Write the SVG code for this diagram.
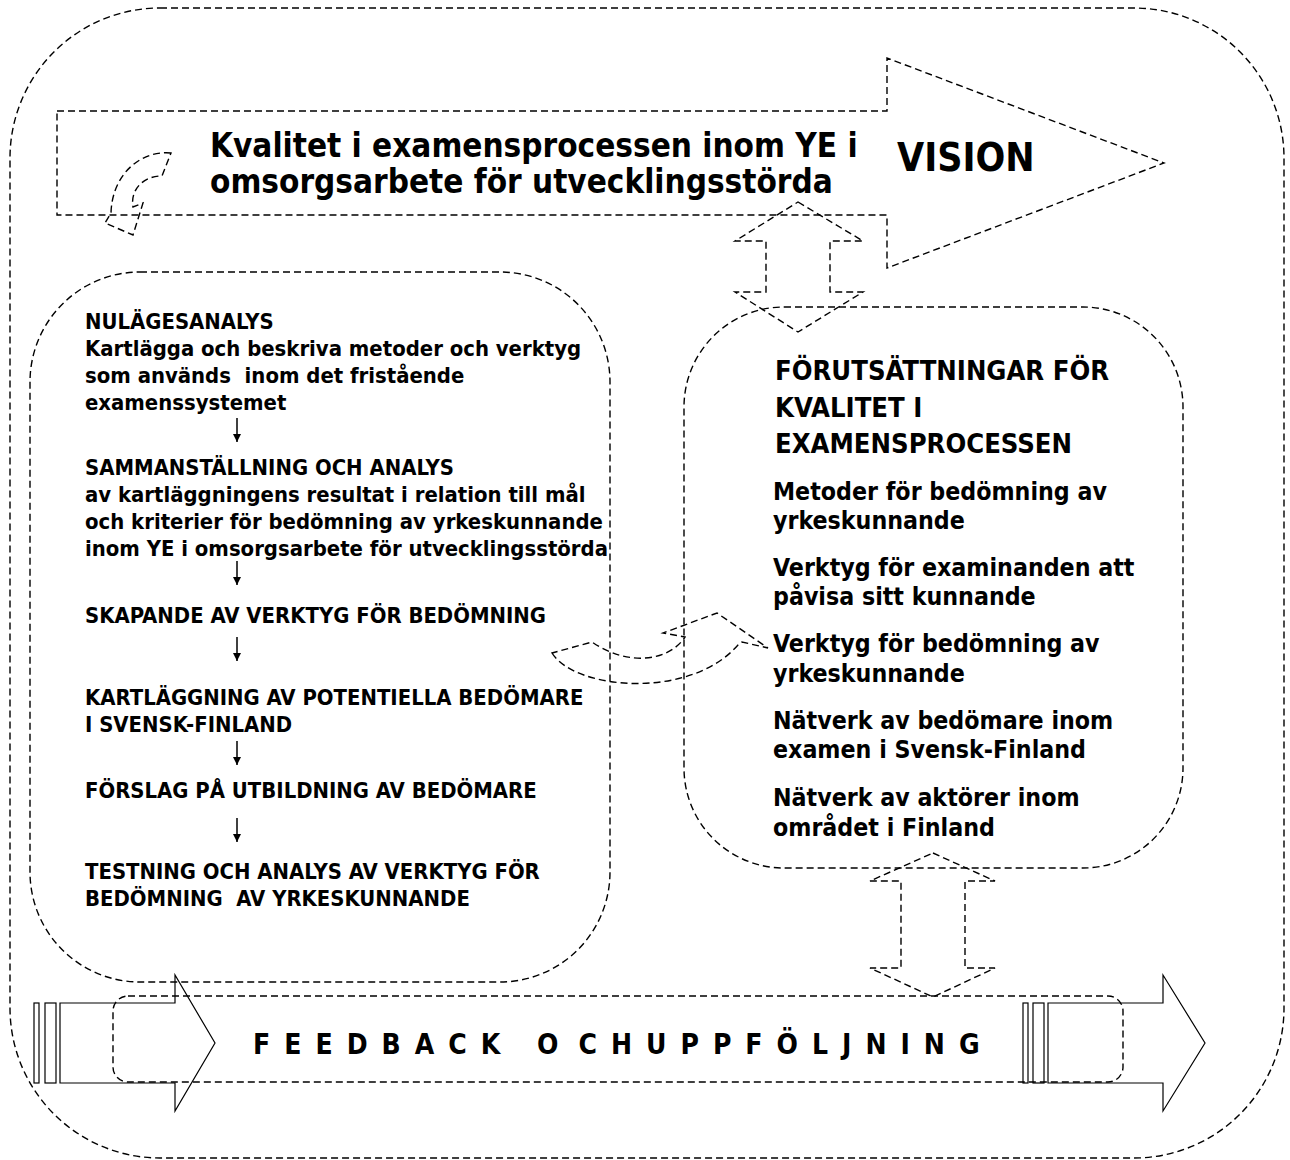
<svg xmlns="http://www.w3.org/2000/svg" width="1290" height="1160" viewBox="0 0 1290 1160">
<style>
.d{fill:none;stroke:#000;stroke-width:1.4;stroke-dasharray:7 4}
.s{fill:none;stroke:#000;stroke-width:1.2}
.t{font-family:"DejaVu Sans Condensed","DejaVu Sans",sans-serif;font-stretch:condensed;font-weight:bold;fill:#000}
.l{font-size:21.9px}
.r{font-size:24.7px}
.h{font-size:27.2px}
.a{stroke:#000;stroke-width:1.5;marker-end:url(#ah)}
</style>
<defs>
<marker id="ah" viewBox="0 0 10 10" refX="10" refY="5" markerWidth="8" markerHeight="8" markerUnits="userSpaceOnUse" orient="auto">
<path d="M0,0 L10,5 L0,10 z" fill="#000"/>
</marker>
</defs>
<rect width="1290" height="1160" fill="#fff"/>

<g id="outer-frame">
<rect class="d" x="10" y="8" width="1274" height="1150" rx="150" ry="150"/>
</g>

<g id="vision">
<path class="d" d="M57,111 H887 V58 L1164,163 L887,268 V215 H57 Z"/>
<text class="t" x="210" y="157" font-size="33">Kvalitet i examensprocessen inom YE i</text>
<text class="t" x="210" y="193" font-size="33">omsorgsarbete för utvecklingsstörda</text>
<text class="t" x="897" y="171" font-size="39">VISION</text>
</g>

<g id="left-box">
<rect class="d" x="30" y="272" width="580" height="710" rx="110" ry="110"/>
<text class="t l" x="85" y="329">NULÄGESANALYS</text>
<text class="t l" x="85" y="356">Kartlägga och beskriva metoder och verktyg</text>
<text class="t l" x="85" y="383" xml:space="preserve">som används  inom det fristående</text>
<text class="t l" x="85" y="410">examenssystemet</text>
<text class="t l" x="85" y="475">SAMMANSTÄLLNING OCH ANALYS</text>
<text class="t l" x="85" y="502">av kartläggningens resultat i relation till mål</text>
<text class="t l" x="85" y="529">och kriterier för bedömning av yrkeskunnande</text>
<text class="t l" x="85" y="556">inom YE i omsorgsarbete för utvecklingsstörda</text>
<text class="t l" x="85" y="623">SKAPANDE AV VERKTYG FÖR BEDÖMNING</text>
<text class="t l" x="85" y="705">KARTLÄGGNING AV POTENTIELLA BEDÖMARE</text>
<text class="t l" x="85" y="732">I SVENSK-FINLAND</text>
<text class="t l" x="85" y="798">FÖRSLAG PÅ UTBILDNING AV BEDÖMARE</text>
<text class="t l" x="85" y="879">TESTNING OCH ANALYS AV VERKTYG FÖR</text>
<text class="t l" x="85" y="906" xml:space="preserve">BEDÖMNING  AV YRKESKUNNANDE</text>
</g>

<g id="right-box">
<rect class="d" x="684" y="307" width="499" height="561" rx="100" ry="100"/>
<text class="t h" x="775" y="380">FÖRUTSÄTTNINGAR FÖR</text>
<text class="t h" x="775" y="417">KVALITET I</text>
<text class="t h" x="775" y="453">EXAMENSPROCESSEN</text>
<text class="t r" x="773" y="500">Metoder för bedömning av</text>
<text class="t r" x="773" y="529">yrkeskunnande</text>
<text class="t r" x="773" y="576">Verktyg för examinanden att</text>
<text class="t r" x="773" y="605">påvisa sitt kunnande</text>
<text class="t r" x="773" y="652">Verktyg för bedömning av</text>
<text class="t r" x="773" y="682">yrkeskunnande</text>
<text class="t r" x="773" y="729">Nätverk av bedömare inom</text>
<text class="t r" x="773" y="758">examen i Svensk-Finland</text>
<text class="t r" x="773" y="806">Nätverk av aktörer inom</text>
<text class="t r" x="773" y="836">området i Finland</text>
</g>

<g id="feedback">
<rect class="d" x="113" y="996" width="1010" height="86" rx="15" ry="15"/>
<text class="t" x="253" y="1054" font-size="28" letter-spacing="14">FEEDBACK O<tspan dx="6">CHUPPFÖLJNING</tspan></text>
</g>

<g id="left-striped-arrow">
<rect class="s" x="34" y="1003" width="5" height="80"/>
<rect class="s" x="45" y="1003" width="11" height="80"/>
<path class="s" d="M60,1003 H175 V975 L215,1043 L175,1111 V1083 H60 Z"/>
</g>

<g id="right-striped-arrow">
<rect class="s" x="1023" y="1003" width="5" height="80"/>
<rect class="s" x="1033" y="1003" width="11" height="80"/>
<path class="s" d="M1048,1003 H1163 V975 L1205,1043 L1163,1111 V1083 H1048 Z"/>
</g>

<g id="connectors">
<path class="d" d="M798,202 L863,241 H830 V292 H863 L798,332 L735,292 H766 V241 H735 Z"/>
<path class="d" d="M933,853 L995,881 H965 V968 H995 L933,997 L870,968 H901 V881 H870 Z"/>
<path class="d" d="M171,153 C140,150 112,175 111,213 L105,223 L133,235 L143,203 L133,207 C130,190 143,176 162,176 Z"/>
<path class="d" d="M552,653 C575,690 690,700 738,645 L742,642 L768,648 L717,613 L663,633 L685,637 C670,660 630,668 592,642 Z"/>
<line class="a" x1="237" y1="418" x2="237" y2="442"/>
<line class="a" x1="237" y1="561" x2="237" y2="585"/>
<line class="a" x1="237" y1="637" x2="237" y2="661"/>
<line class="a" x1="237" y1="741" x2="237" y2="765"/>
<line class="a" x1="237" y1="818" x2="237" y2="842"/>
</g>
</svg>
